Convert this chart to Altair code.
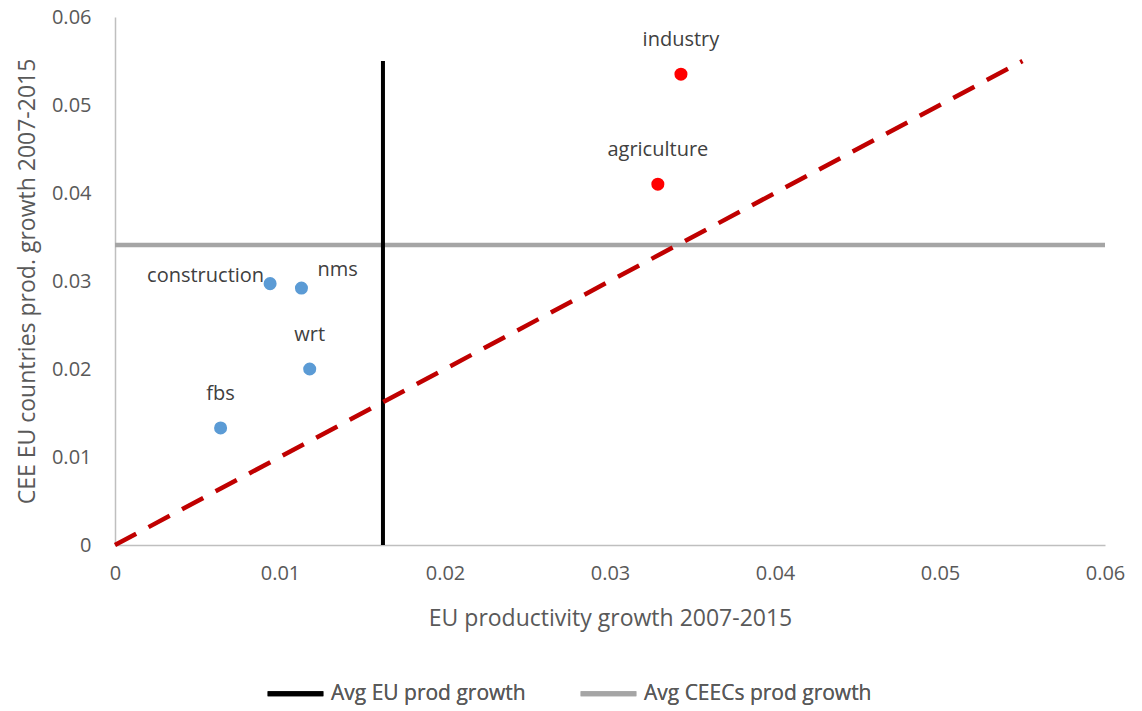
import altair as alt
import pandas as pd

# Sector productivity growth, 2007-2015
sectors = ["industry", "agriculture", "construction", "nms", "wrt", "fbs"]
eu_growth = [0.0343, 0.0329, 0.0094, 0.0113, 0.0118, 0.0064]
cee_growth = [0.0535, 0.0410, 0.0297, 0.0292, 0.0200, 0.0133]
group = ["high", "high", "low", "low", "low", "low"]
label_pos = ["above", "above", "left", "right", "above", "above"]

# Reference lines
avg_eu = 0.01624
avg_cee = 0.0341
diag_end = 0.055

legend_names = ["Avg EU prod growth", "Avg CEECs prod growth"]

pts = pd.DataFrame({"sector": sectors, "eu": eu_growth, "cee": cee_growth,
                    "group": group, "pos": label_pos})
vline = pd.DataFrame({"x": [avg_eu], "y": [0.0], "y2": [diag_end], "name": [legend_names[0]]})
hline = pd.DataFrame({"x": [0.0], "x2": [0.06], "y": [avg_cee], "name": [legend_names[1]]})
diag = pd.DataFrame({"x": [0.0, diag_end], "y": [0.0, diag_end]})

FONT = "Open Sans"
xs = alt.Scale(domain=[0, 0.06], nice=False)
ys = alt.Scale(domain=[0, 0.06], nice=False)
ticks = [0, 0.01, 0.02, 0.03, 0.04, 0.05, 0.06]

xaxis = alt.Axis(title="EU productivity growth 2007-2015", values=ticks, format="~g",
                 grid=False, ticks=False, domainColor="#BFBFBF", domainWidth=1.5,
                 labelFontSize=20, labelColor="#595959", labelPadding=18, labelFont=FONT,
                 titleFontSize=23, titleColor="#595959", titleFontWeight="normal",
                 titlePadding=24, titleFont=FONT, labelFlush=False)
yaxis = alt.Axis(title="CEE EU countries prod. growth 2007-2015", values=ticks, format="~g",
                 grid=False, ticks=False, domainColor="#BFBFBF", domainWidth=1.5,
                 labelFontSize=20, labelColor="#595959", labelPadding=24, labelFont=FONT,
                 titleFontSize=23, titleColor="#595959", titleFontWeight="normal",
                 titlePadding=12, titleFont=FONT, labelFlush=False)

color_scale = alt.Scale(domain=legend_names, range=["#000000", "#A5A5A5"])
legend = alt.Legend(title=None, orient="none", legendX=150, legendY=646,
                    direction="horizontal", symbolType="stroke", symbolSize=3100,
                    symbolStrokeWidth=5, labelFontSize=21, labelColor="#595959",
                    labelFont=FONT, columnPadding=44, labelOffset=5, labelLimit=400)

hrule = alt.Chart(hline).mark_rule(strokeWidth=4.5).encode(
    x=alt.X("x:Q", scale=xs, axis=xaxis), x2="x2:Q",
    y=alt.Y("y:Q", scale=ys, axis=yaxis),
    color=alt.Color("name:N", scale=color_scale, legend=legend),
)
vrule = alt.Chart(vline).mark_rule(strokeWidth=4).encode(
    x=alt.X("x:Q", scale=xs), y=alt.Y("y:Q", scale=ys), y2="y2:Q",
    color=alt.Color("name:N", scale=color_scale, legend=legend),
)
diag_line = alt.Chart(diag).mark_line(color="#C00000", strokeWidth=4.5,
                                      strokeDash=[24, 14]).encode(
    x=alt.X("x:Q", scale=xs), y=alt.Y("y:Q", scale=ys))

points = alt.Chart(pts).mark_circle(size=170, opacity=1).encode(
    x=alt.X("eu:Q", scale=xs), y=alt.Y("cee:Q", scale=ys),
    color=alt.Color("group:N", scale=alt.Scale(domain=["high", "low"],
                                               range=["#FF0000", "#5B9BD5"]), legend=None),
)

text_style = dict(fontSize=20, font=FONT, color="#404040")
above = alt.Chart(pts).transform_filter(alt.datum.pos == "above").mark_text(
    dy=-34, align="center", **text_style).encode(
    x=alt.X("eu:Q", scale=xs), y=alt.Y("cee:Q", scale=ys), text="sector:N")
left = alt.Chart(pts).transform_filter(alt.datum.pos == "left").mark_text(
    dx=-6, dy=-8, align="right", **text_style).encode(
    x=alt.X("eu:Q", scale=xs), y=alt.Y("cee:Q", scale=ys), text="sector:N")
right = alt.Chart(pts).transform_filter(alt.datum.pos == "right").mark_text(
    dx=16, dy=-18, align="left", **text_style).encode(
    x=alt.X("eu:Q", scale=xs), y=alt.Y("cee:Q", scale=ys), text="sector:N")

chart = alt.layer(hrule, vrule, diag_line, points, above, left, right).resolve_scale(
    color="independent"
).properties(
    width=990, height=528,
    autosize=alt.AutoSizeParams(type="none"),
    padding={"left": 115, "top": 17, "right": 37, "bottom": 166},
).configure(background="white").configure_view(strokeWidth=0)

chart.save("out.html", embed_options={"renderer": "svg", "actions": False})
